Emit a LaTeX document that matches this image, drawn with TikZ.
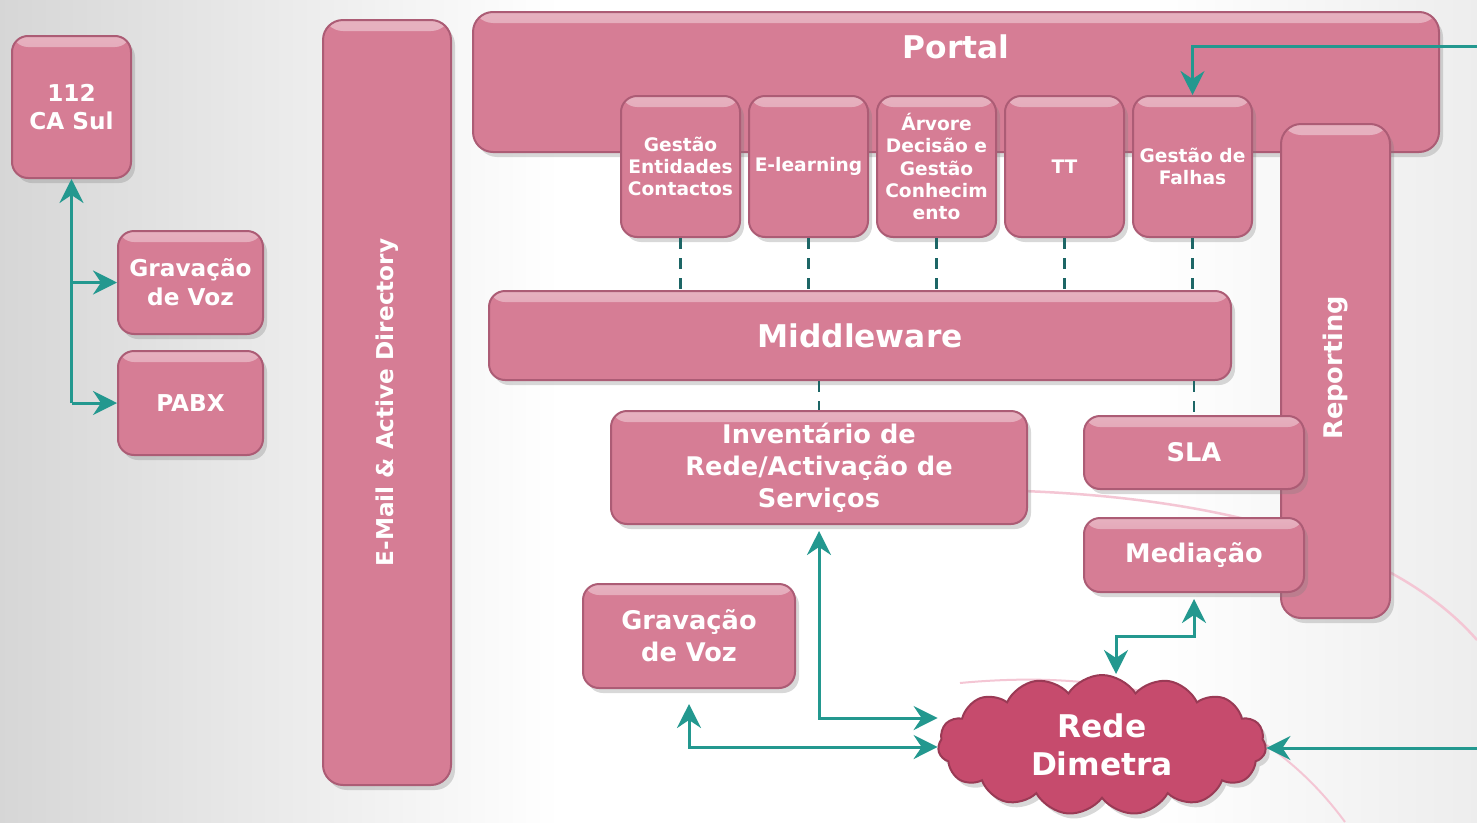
\documentclass[tikz,border=0pt]{standalone}
\usepackage{fontspec}
\setmainfont{DejaVu Sans}
\usepackage{tikz}
\usetikzlibrary{arrows.meta,shapes,shapes.symbols,positioning,calc,shadows}
\definecolor{boxpink}{HTML}{D67D95}
\definecolor{boxedge}{HTML}{AC5C75}
\definecolor{cloudred}{HTML}{C64B6D}
\definecolor{cloudedge}{HTML}{9A3A55}
\definecolor{linkteal}{HTML}{23988F}
\definecolor{dashteal}{HTML}{1D6666}
\definecolor{arcpink}{HTML}{F4C6D4}
\tikzstyle{blk}  = [draw=boxedge, line width=0.2mm, fill=boxpink, rounded corners=1.6mm, text=white, align=center, inner sep=0pt,
                    drop shadow={shadow xshift=0.4mm,shadow yshift=-0.5mm,opacity=0.3},
                    path picture={\shade[top color=boxpink!60!white, bottom color=boxpink] (path picture bounding box.north west) rectangle ([yshift=-1.1mm]path picture bounding box.north east);}]
\tikzstyle{big}  = [font=\bfseries\fontsize{8.9}{10.8}\selectfont]
\tikzstyle{mid}  = [font=\bfseries\fontsize{7.3}{9.1}\selectfont]
\tikzstyle{lft}  = [font=\bfseries\fontsize{6.6}{8.2}\selectfont]
\tikzstyle{sml}  = [font=\bfseries\fontsize{5.3}{6.3}\selectfont]
\tikzstyle{link} = [linkteal, line width=0.3mm, >={Stealth[length=2.4mm,width=2.4mm,inset=0.8mm]}]
\tikzstyle{dashlink} = [dashteal, line width=0.28mm, dash pattern=on 1.1mm off 0.9mm]
\begin{document}
\begin{tikzpicture}[x=0.1mm,y=-0.1mm]
    \fill[white] (0,0) rectangle (1477,822);
    \shade[left color=black!16, right color=white] (0,0) rectangle (560,822);
    \shade[left color=white, right color=black!7] (1150,0) rectangle (1477,822);
    \useasboundingbox (0,0) rectangle (1477,822);
    \draw[arcpink, line width=0.25mm] (950,490) .. controls (1200,488) and (1390,540) .. (1477,640);
    \draw[arcpink, line width=0.2mm] (960,683) .. controls (1150,665) and (1270,720) .. (1345,822);

    \node[blk, lft, minimum width=11.9mm, minimum height=14.2mm] (CA) at (71.5,107) {112\\CA Sul};
    \node[blk, lft, minimum width=14.5mm, minimum height=10.3mm] (GV1) at (190.5,282.5) {Gravação\\de Voz};
    \node[blk, lft, minimum width=14.5mm, minimum height=10.4mm] (PX) at (190.5,403) {PABX};
    \node[blk, minimum width=12.8mm, minimum height=76.5mm, rounded corners=2mm,
          label={[lft, text=white, rotate=90]center:E-Mail \& Active Directory}] (EM) at (387,402.5) {};
    \node[blk, minimum width=96.6mm, minimum height=14mm, rounded corners=2mm,
          label={[big, text=white, anchor=center, yshift=-3.6mm]north:Portal}] (PT) at (956,82) {};
    \foreach \n/\t in {0/{Gestão\\Entidades\\Contactos},1/E-learning,2/{Árvore\\Decisão e\\Gestão\\Conhecim\\ento},3/TT,4/{Gestão de\\Falhas}}
    {
        \node[blk, sml, minimum width=11.9mm, minimum height=14.1mm] (S\n) at ({680.5+128*\n},166.5) {\t};
    }
    \node[blk, minimum width=10.9mm, minimum height=49.4mm, rounded corners=2mm,
          label={[mid, text=white, rotate=90, xshift=0.3mm]center:Reporting}] (RP) at (1335.5,371) {};
    \node[blk, big, minimum width=74.2mm, minimum height=8.9mm] (MW) at (860,335.5) {Middleware};
    \node[blk, mid, minimum width=41.6mm, minimum height=11.3mm] (INV) at (819,467.5) {Inventário de\\Rede/Activação de\\Serviços};
    \node[blk, mid, minimum width=22mm, minimum height=7.3mm] (SLA) at (1194,452.5) {SLA};
    \node[blk, mid, minimum width=22mm, minimum height=7.4mm] (MED) at (1194,555) {Mediação};
    \node[blk, mid, minimum width=21.2mm, minimum height=10.4mm] (GV2) at (689,636) {Gravação\\de Voz};
    \node[cloud, cloud puffs=15, cloud puff arc=115, aspect=2.4, draw=cloudedge, line width=0.2mm, fill=cloudred,
          text=white, big, align=center, inner sep=0pt, minimum width=32.8mm, minimum height=14mm,
          drop shadow={shadow xshift=0.4mm,shadow yshift=-0.5mm,opacity=0.3}] (RD) at (1102,745) {Rede\\Dimetra};

    \foreach \n in {0,...,4}
        \draw[dashlink] (S\n.south) -- (S\n.south |- MW.north);
    \draw[dashlink] (MW.south -| INV.north) -- (INV.north);
    \draw[dashlink] (MW.south -| SLA.north) -- (SLA.north);

    \coordinate (E1) at (1477,46);
    \coordinate (E2) at (1477,748);
    \draw[link,->] (CA.south |- PX.west) -- (CA.south);
    \draw[link,->] (CA.south |- GV1.west) -- (GV1.west);
    \draw[link,->] (CA.south |- PX.west) -- (PX.west);
    \draw[link,->] (E1) -| (S4.north);
    \draw[link,->] (E2) -- (E2 -| RD.east);
    \draw[link,<->] ([xshift=1.4mm]RD.north) -- ++(0,-38) -| ([yshift=-0.6mm]MED.south);
    \draw[link,<->] ([yshift=-0.6mm]INV.south) |- ([yshift=2.7mm]RD.west);
    \draw[link,<->] ([yshift=-1.5mm]GV2.south) |- ([yshift=-0.2mm]RD.west);
\end{tikzpicture}
\end{document}
